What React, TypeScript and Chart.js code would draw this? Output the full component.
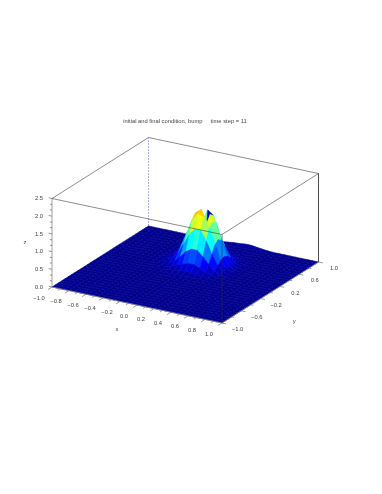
import React, { useEffect, useRef } from "react";
import { Chart, registerables } from "chart.js";

Chart.register(...registerables);

const titleText = "initial and final condition, bump     time step = 11";
const xValues = [-1, -0.933, -0.867, -0.8, -0.733, -0.667, -0.6, -0.533, -0.467, -0.4, -0.333, -0.267, -0.2, -0.133, -0.067, 0, 0.067, 0.133, 0.2, 0.267, 0.333, 0.4, 0.467, 0.533, 0.6, 0.667, 0.733, 0.8, 0.867, 0.933, 1];
const yValues = [-1, -0.933, -0.867, -0.8, -0.733, -0.667, -0.6, -0.533, -0.467, -0.4, -0.333, -0.267, -0.2, -0.133, -0.067, 0, 0.067, 0.133, 0.2, 0.267, 0.333, 0.4, 0.467, 0.533, 0.6, 0.667, 0.733, 0.8, 0.867, 0.933, 1];

// rows are y (from -1 to 1), columns are x (from -1 to 1)
const zGrid = [
  [0,0,0,0,0,0,0,0,0,0,0,0,0,0,0,0,0,0,0,0,0,0,0,0,0,0,0,0,0,0,0],
  [0,0,0,0,0,0,0,0,0,0,0,0,0,0,0,0,0,0,0,0,0,0,0,0,0,0,0,0,0,0,0],
  [0,0,0,0,0,0,0,0,0,0,0,0,0,0,0,0,0,0,0,0,0,0,0,0,0,0,0,0,0,0,0],
  [0,0,0,0,0,0,0,0,0,0,0,0,0,0,0,0,0,0,0,0,0,0,0,0,0,0,0,0,0,0,0],
  [0,0,0,0,0,0,0,0,0,0,0,0,0,0,0,0,0,0,0,0,0,0,0,0,0,0,0,0,0,0,0],
  [0,0,0,0,0,0,0,0,0,0,0,0,0,0,0,0,0,0,0,0,0,0,0,0,0,0,0,0,0,0,0],
  [0,0,0,0,0,0,0,0,0,0,0,0,0,0,0,0,0,0,0,0,0,0,0,0,0,0,0,0,0,0,0],
  [0,0,0,0,0,0,0,0,0,0,0,0,0,0,0,0,0,0,0,0,0,0,0,0,0,0,0,0,0,0,0],
  [0,0,0,0,0,0,0,0,0,0,0,0,0,0,0,0,0,0,0,0,0,0,0,0,0,0,0,0,0,0,0],
  [0,0,0,0,0,0,0,0,0,0,0,0,0,0,0,0,0,0,0,0,0,0,0,0,0,0,0,0,0,0,0],
  [0,0,0,0,0,0,0,0,0,0,0,0,0,0,0,0,0,0,0,0,0,0,0,0,0,0,0,0,0,0,0],
  [0,0,0,0,0,0,0,0,0,0,0,0,0,0,0,0,0,0,0,0,0,0,0,0,0,0,0,0,0,0,0],
  [0,0,0,0,0,0,0,0,0,0,0,0,0,0,0,0,0,0,0,0,0,0,0,0,0,0,0,0,0,0,0],
  [0,0,0,0,0,0,0,0,0,0,0,0,0.001,0.004,0.006,0.007,0.007,0.006,0.003,0,0,0,0,0,0,0,0,0,0,0,0],
  [0,0,0,0,0,0,0,0,0,0,0,0.005,0.01,0.016,0.022,0.025,0.025,0.02,0.015,0.007,0.001,0,0,0,0,0,0,0,0,0,0],
  [0,0,0,0,0,0,0,0,0,0,0.007,0.016,0.03,0.05,0.07,0.09,0.09,0.065,0.04,0.02,0.01,0.002,0,0,0,0,0,0,0,0,0],
  [0,0,0,0,0,0,0,0,0,0.006,0.017,0.04,0.08,0.14,0.2,0.25,0.25,0.18,0.115,0.055,0.02,0.008,0,0,0,0,0,0,0,0,0],
  [0,0,0,0,0,0,0,0,0.003,0.013,0.033,0.08,0.17,0.32,0.5,0.6,0.6,0.45,0.27,0.12,0.05,0.015,0.003,0,0,0,0,0,0,0,0],
  [0,0,0,0,0,0,0,0,0.007,0.02,0.06,0.15,0.32,0.61,0.91,1.11,1.11,0.84,0.5,0.21,0.08,0.025,0.007,0,0,0,0,0,0,0,0],
  [0,0,0,0,0,0,0,0,0.01,0.028,0.08,0.21,0.48,0.88,1.3,1.48,1.42,1.15,0.72,0.31,0.11,0.035,0.01,0,0,0,0,0,0,0,0],
  [0,0,0,0,0,0,0,0,0.01,0.03,0.09,0.23,0.54,0.98,1.42,1.55,1.2,1.25,0.8,0.35,0.125,0.04,0.01,0,0,0,0,0,0,0,0],
  [0,0,0,0,0,0,0,0,0.01,0.028,0.09,0.25,0.57,0.98,1.36,0.1,1.38,1.2,0.72,0.31,0.11,0.035,0.01,0,0,0,0,0,0,0,0],
  [0,0,0,0,0,0,0,0,0.007,0.02,0.06,0.2,0.4,0.75,1.05,1.42,1.3,0.84,0.5,0.21,0.08,0.025,0.007,0,0,0,0,0,0,0,0],
  [0,0,0,0,0,0,0,0,0.003,0.013,0.033,0.08,0.17,0.32,0.55,0.7,0.6,0.45,0.27,0.12,0.05,0.015,0.003,0,0,0,0,0,0,0,0],
  [0,0,0,0,0,0,0,0,0,0.006,0.017,0.04,0.08,0.14,0.2,0.25,0.25,0.18,0.115,0.055,0.02,0.008,0,0,0,0,0,0,0,0,0],
  [0,0,0,0,0,0,0,0,0,0,0.007,0.016,0.03,0.05,0.07,0.09,0.09,0.065,0.04,0.02,0.01,0.002,0,0,0,0,0,0,0,0,0],
  [0,0,0,0,0,0,0,0,0,0,0,0.005,0.01,0.016,0.022,0.025,0.025,0.02,0.015,0.007,0.001,0,0,0,0,0,0,0,0,0,0],
  [0,0,0,0,0,0,0,0,0,0,0,0,0.001,0.004,0.006,0.007,0.007,0.006,0.003,0,0,0,0,0,0,0,0,0,0,0,0],
  [0,0,0,0,0,0,0,0,0,0,0,0,0,0,0.003,0.005,0.006,0.006,0.005,0.002,0,0,0,0,0,0,0,0,0,0,0],
  [0,0,0,0,0,0,0,0,0,0,0,0,0,0,0.005,0.01,0.015,0.02,0.02,0.01,0.005,0,0,0,0,0,0,0,0,0,0],
  [0,0,0,0,0,0,0,0,0,0,0,0,0,0,0.02,0.04,0.05,0.07,0.07,0.05,0.03,0.01,0,0,0,0,0,0,0,0,0],
];

// facets [x index, y index] seen in the pit between the two lobes
const pitFacets = [[15, 21]];

const xTicksLabelled = [-1, -0.8, -0.6, -0.4, -0.2, 0, 0.2, 0.4, 0.6, 0.8, 1];
const xTicksMinor = [-0.9, -0.7, -0.5, -0.3, -0.1, 0.1, 0.3, 0.5, 0.7, 0.9];
const yTicksLabelled = [-1, -0.6, -0.2, 0.2, 0.6, 1];
const yTicksMinor = [-0.8, -0.4, 0, 0.4, 0.8];
const zTicksLabelled = [0, 0.5, 1, 1.5, 2, 2.5];
const zTicksMinor = [0.17, 0.33, 0.67, 0.83, 1.17, 1.33, 1.67, 1.83, 2.17, 2.33];

const colorMax = 2.1;
const jetStops: [number, number, number, number][] = [
  [0, 0, 0, 143],
  [0.125, 0, 0, 255],
  [0.375, 0, 255, 255],
  [0.625, 255, 255, 0],
  [0.875, 255, 0, 0],
  [1, 128, 0, 0],
];

const zMax = 2.5;
function project(x: number, y: number, z: number) {
  return {
    x: 52 + 85 * (x + 1) + 48.25 * (y + 1),
    y: 287 + 18 * (x + 1) - 30.5 * (y + 1) - 35.4 * z,
  };
}

function jet(t: number) {
  const v = Math.max(0, Math.min(1, t));
  for (let k = 1; k < jetStops.length; k++) {
    const a = jetStops[k - 1];
    const b = jetStops[k];
    if (v <= b[0]) {
      const f = (v - a[0]) / (b[0] - a[0]);
      return `rgb(${Math.round(a[1] + (b[1] - a[1]) * f)},${Math.round(a[2] + (b[2] - a[2]) * f)},${Math.round(a[3] + (b[3] - a[3]) * f)})`;
    }
  }
  return "rgb(128,0,0)";
}

function surfaceDatasets() {
  const sets: any[] = [];
  for (let j = 0; j < yValues.length - 1; j++) {
    for (let i = 0; i < xValues.length - 1; i++) {
      const corners = [[i, j], [i + 1, j], [i + 1, j + 1], [i, j + 1], [i, j]];
      const mean = (zGrid[j][i] + zGrid[j][i + 1] + zGrid[j + 1][i + 1] + zGrid[j + 1][i]) / 4;
      const isPit = pitFacets.some(([a, b]) => a === i && b === j);
      const color = jet((isPit ? zGrid[j][i] : mean) / colorMax);
      sets.push({
        data: corners.map(([a, b]) => project(xValues[a], yValues[b], zGrid[b][a])),
        showLine: true,
        fill: "shape",
        backgroundColor: color,
        borderColor: color,
        borderWidth: 0.6,
        pointRadius: 0,
        order: j - i,
      });
    }
  }
  return sets;
}

function lineSet(points: { x: number; y: number }[], color: string, width: number, order: number, dash: number[] = []) {
  return {
    data: points,
    showLine: true,
    fill: false,
    borderColor: color,
    borderWidth: width,
    borderDash: dash,
    pointRadius: 0,
    order,
  };
}

const gap = { x: null as any, y: null as any };

function tickSegments() {
  const out: any[] = [];
  const add = (a: any, b: any) => out.push(a, b, gap);
  xTicksLabelled.forEach((v) => add(project(v, -1, 0), project(v, -1.08, 0)));
  xTicksMinor.forEach((v) => add(project(v, -1, 0), project(v, -1.05, 0)));
  yTicksLabelled.forEach((v) => add(project(1, v, 0), project(1.05, v, 0)));
  yTicksMinor.forEach((v) => add(project(1, v, 0), project(1.03, v, 0)));
  zTicksLabelled.forEach((v) => add(project(-1, -1, v), project(-1.04, -1, v)));
  zTicksMinor.forEach((v) => add(project(-1, -1, v), project(-1.025, -1, v)));
  return out;
}

const fmt = (v: number) => (v < 0 ? "\u2212" : "") + Math.abs(v).toFixed(1);

const labelsPlugin = {
  id: "surfaceLabels",
  afterDraw(chart: any) {
    const { ctx } = chart;
    ctx.save();
    ctx.font = '5.8px "Liberation Sans"';
    ctx.fillStyle = "#444";
    ctx.textAlign = "center";
    ctx.textBaseline = "middle";
    const put = (text: string, px: number, py: number) => ctx.fillText(text, px, py);
    xTicksLabelled.forEach((v) => {
      const p = project(v, -1, 0);
      put(fmt(v), p.x - 13, p.y + 11);
    });
    yTicksLabelled.forEach((v) => {
      const p = project(1, v, 0);
      put(fmt(v), p.x + 15.5, p.y + 6.5);
    });
    zTicksLabelled.forEach((v) => {
      const p = project(-1, -1, v);
      put(v.toFixed(1), p.x - 13, p.y);
    });
    const xc = project(0, -1, 0);
    put("x", xc.x - 20, xc.y + 24);
    const yc = project(1, 0, 0);
    put("y", yc.x + 24, yc.y + 28.5);
    const zc = project(-1, -1, zMax / 2);
    put("z", zc.x - 27, zc.y);
    put(titleText, 185, 121.5);
    ctx.restore();
  },
};

export default function App() {
  const ref = useRef<HTMLCanvasElement>(null);
  useEffect(() => {
    const T = zMax;
    const box = "rgba(60,60,60,0.85)";
    const chart = new Chart(ref.current!, {
      type: "scatter",
      data: {
        datasets: [
          lineSet([project(1, -1, T), project(-1, -1, T)], box, 0.7, -1000),
          lineSet([project(1, -1, T), project(1, 1, T)], box, 0.7, -1000),
          lineSet([project(1, -1, 0), project(1, -1, T)], "rgba(40,40,70,0.85)", 0.7, -1000),
          lineSet([project(-1, -1, T), project(-1, 1, T), project(1, 1, T), project(1, 1, 0)], box, 0.7, 1000),
          lineSet([project(-1, 1, 0), project(-1, 1, T)], "#b0b0ea", 1, 1000, [2, 1]),
          lineSet([project(-1, -1, 0), project(-1, -1, T)], "#777", 0.7, -1000),
          lineSet([project(-1, -1, 0), project(1, -1, 0), project(1, 1, 0)], "#999", 0.7, -1000),
          lineSet(tickSegments(), "#555", 0.6, -1000),
          ...surfaceDatasets(),
        ],
      },
      options: {
        animation: false,
        responsive: false,
        layout: { padding: 0 },
        scales: {
          x: { type: "linear", min: 0, max: 382, display: false },
          y: { type: "linear", min: 0, max: 494, reverse: true, display: false },
        },
        plugins: { legend: { display: false }, tooltip: { enabled: false }, title: { display: false } },
        elements: { line: { tension: 0 } },
      } as any,
      plugins: [labelsPlugin],
    });
    return () => chart.destroy();
  }, []);
  return (
    <canvas
      ref={ref}
      width={382}
      height={494}
      style={{ position: "absolute", left: 0, top: 0, width: 382, height: 494, display: "block" }}
    />
  );
}
